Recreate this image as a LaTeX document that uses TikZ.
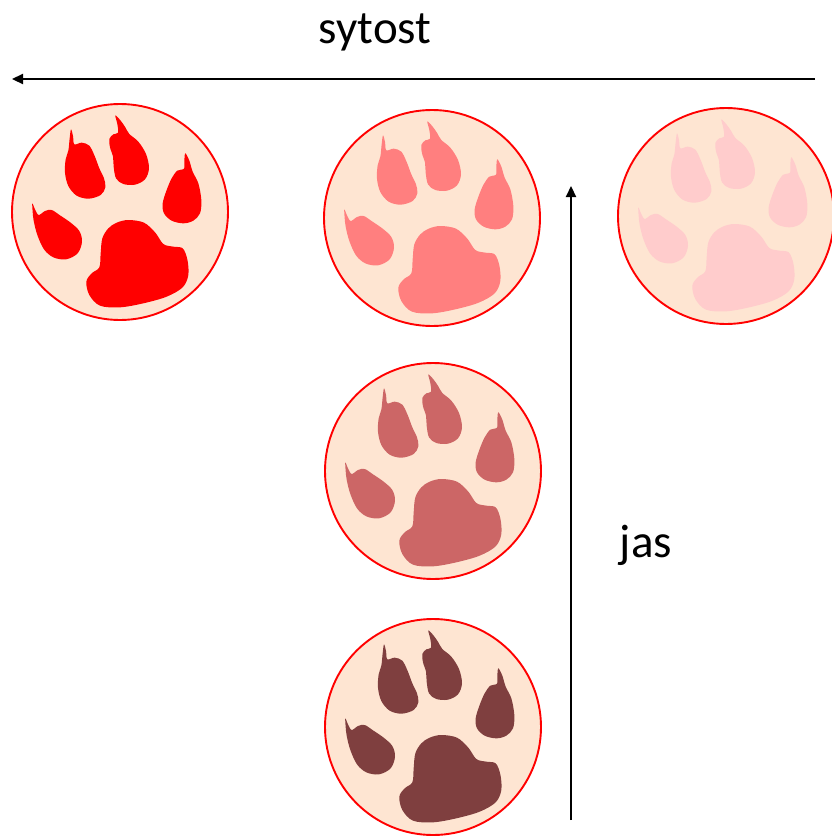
\documentclass[tikz,border=0pt]{standalone}
\usepackage{fontspec}
\setmainfont{Carlito}
\usetikzlibrary{arrows.meta}
\definecolor{peach}{HTML}{FEE5D2}
\definecolor{pawA}{HTML}{FF0000}
\definecolor{pawB}{HTML}{FF7F7F}
\definecolor{pawC}{HTML}{FFCCCC}
\definecolor{pawD}{HTML}{CC6666}
\definecolor{pawE}{HTML}{7F3F3F}
\tikzset{
  disc/.style={circle, draw=red, fill=peach, line width=1.9pt, minimum size=216pt, inner sep=0pt},
  lbl/.style={font=\fontsize{47}{50}\selectfont, anchor=base, inner sep=0pt},
  axis/.style={line width=2.2pt, -{Triangle[length=11pt,width=10pt]}},
  pics/paw/.style={code={
    \begin{scope}[shift={(-120,-112)}, scale=1/3]
      \fill[#1] plot[smooth cycle, tension=0.55] coordinates {(213,88) (219,108) (223,133) (245,128) (268,137) (284,168) (298,205) (312,235) (316,262) (302,285) (266,296) (230,287) (205,258) (195,218) (197,178) (205,152) (209,115)};
      \fill[#1] plot[smooth cycle, tension=0.55] coordinates {(346,46) (362,62) (376,82) (388,102) (415,125) (438,162) (447,205) (435,238) (405,254) (370,252) (348,235) (341,200) (339,170) (330,142) (328,117) (340,103) (354,98) (352,72)};
      \fill[#1] plot[smooth cycle, tension=0.55] coordinates {(556,160) (568,182) (578,215) (595,250) (604,300) (600,340) (580,362) (550,370) (515,362) (492,340) (488,310) (500,270) (515,235) (532,212) (552,206) (553,182)};
      \fill[#1] plot[smooth cycle, tension=0.55] coordinates {(97,310) (105,328) (116,345) (135,333) (155,330) (180,346) (212,368) (238,393) (246,425) (233,460) (198,478) (160,472) (132,448) (112,405) (101,362) (98,335)};
      \fill[#1] plot[smooth cycle, tension=0.55] coordinates {(385,360) (432,368) (466,398) (490,432) (520,440) (548,445) (562,478) (565,525) (548,562) (500,590) (430,610) (360,622) (300,617) (268,585) (259,545) (275,520) (298,502) (302,460) (307,415) (325,385) (350,368)};
    \end{scope}
  }}
}
\begin{document}
\begin{tikzpicture}[x=1pt, y=-1pt]
\useasboundingbox (0,0) rectangle (831,836);
\node[disc] (c1) at (120,212) {};
\node[disc] (c2) at (432,218) {};
\node[disc] (c3) at (726,216) {};
\node[disc] (c4) at (433,471) {};
\node[disc] (c5) at (433,727) {};
\pic at (c1.center) {paw=pawA};
\pic at (c2.center) {paw=pawB};
\pic at (c3.center) {paw=pawC};
\pic at (c4.center) {paw=pawD};
\pic at (c5.center) {paw=pawE};
\coordinate (hs) at (815,79);
\coordinate (he) at (12,79);
\draw[axis] (hs) -- (he);
\coordinate (vs) at (571,820);
\coordinate (ve) at (571,186);
\draw[axis] (vs) -- (ve);
\node[lbl] (t1) at (375,43) {sytost};
\node[lbl] (t2) at (646,557) {jas};
\end{tikzpicture}
\end{document}
